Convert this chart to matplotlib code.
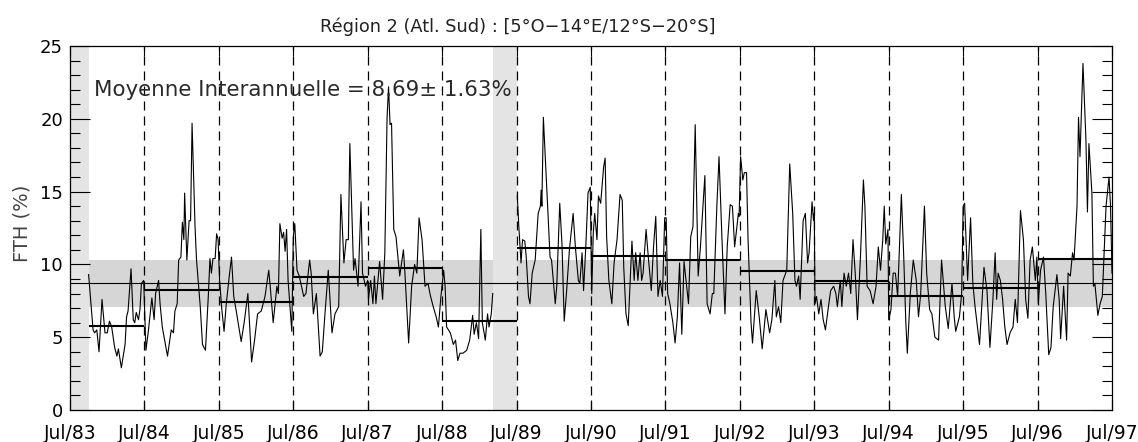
import numpy as np
import matplotlib
matplotlib.use("Agg")
import matplotlib.pyplot as plt
from matplotlib.ticker import MultipleLocator, FixedLocator

# FTH series, Oct 83 -> Mar 89 (decimal years / %)
t_part1 = [1983.75, 1983.81, 1983.83, 1983.86, 1983.89, 1983.93, 1983.97, 1984.00, 1984.03, 1984.06,
           1984.10, 1984.13, 1984.15, 1984.19, 1984.24, 1984.26, 1984.28, 1984.32, 1984.35, 1984.37,
           1984.39, 1984.42, 1984.44, 1984.46, 1984.49, 1984.51, 1984.52, 1984.55, 1984.60, 1984.63,
           1984.65, 1984.69, 1984.71, 1984.74, 1984.81, 1984.86, 1984.89, 1984.91, 1984.94, 1984.96,
           1984.99, 1985.01, 1985.03, 1985.04, 1985.07, 1985.10, 1985.12, 1985.14, 1985.18, 1985.20,
           1985.25, 1985.28, 1985.32, 1985.36, 1985.38, 1985.40, 1985.42, 1985.45, 1985.47, 1985.49,
           1985.51, 1985.54, 1985.57, 1985.60, 1985.64, 1985.67, 1985.70, 1985.74, 1985.80, 1985.84,
           1985.89, 1985.94, 1985.98, 1986.02, 1986.07, 1986.12, 1986.17, 1986.19, 1986.23, 1986.28,
           1986.30, 1986.32, 1986.35, 1986.37, 1986.39, 1986.41, 1986.43, 1986.48, 1986.50, 1986.52,
           1986.55, 1986.58, 1986.61, 1986.64, 1986.67, 1986.72, 1986.74, 1986.77, 1986.81, 1986.86,
           1986.89, 1986.93, 1986.97, 1987.02, 1987.06, 1987.11, 1987.14, 1987.18, 1987.21, 1987.24,
           1987.26, 1987.31, 1987.33, 1987.37, 1987.41, 1987.43, 1987.47, 1987.50, 1987.51, 1987.54,
           1987.57, 1987.59, 1987.61, 1987.66, 1987.70, 1987.73, 1987.76, 1987.78, 1987.80, 1987.82,
           1987.85, 1987.88, 1987.91, 1987.93, 1987.98, 1988.00, 1988.05, 1988.09, 1988.13, 1988.16,
           1988.19, 1988.23, 1988.27, 1988.31, 1988.34, 1988.38, 1988.42, 1988.45, 1988.48, 1988.52,
           1988.54, 1988.56, 1988.61, 1988.65, 1988.68, 1988.71, 1988.74, 1988.78, 1988.83, 1988.87,
           1988.91, 1988.93, 1988.96, 1988.99, 1989.02, 1989.04, 1989.08, 1989.11, 1989.13, 1989.16,
           1989.18]
fth_part1 = [9.3, 5.5, 5.3, 5.5, 4.0, 7.6, 5.3, 5.3, 6.1, 5.7,
             4.3, 3.7, 4.2, 2.9, 4.5, 6.4, 6.8, 9.7, 6.2, 6.0,
             6.7, 6.2, 6.9, 8.7, 8.9, 5.7, 4.1, 5.3, 7.7, 6.2,
             8.0, 8.9, 7.3, 5.7, 3.7, 5.5, 5.3, 6.8, 7.3, 10.3,
             10.5, 12.9, 11.7, 14.9, 10.3, 13.0, 13.0, 19.7, 12.6, 10.3,
             7.1, 4.5, 4.1, 8.0, 10.4, 9.4, 10.4, 10.4, 12.1, 11.7,
             8.9, 6.9, 5.4, 7.3, 9.2, 10.5, 7.8, 6.6, 4.7, 6.0,
             8.0, 3.3, 4.8, 6.6, 6.8, 7.8, 9.6, 8.5, 6.0, 8.5,
             8.0, 12.8, 11.8, 12.2, 10.9, 12.4, 8.9, 5.4, 11.9, 12.8,
             9.6, 9.2, 8.5, 7.8, 8.0, 10.3, 9.4, 6.6, 8.0, 3.7,
             4.0, 6.9, 9.6, 5.3, 6.6, 7.1, 14.8, 10.1, 11.7, 11.7,
             18.3, 9.6, 10.4, 8.5, 14.3, 9.4, 8.5, 8.9, 7.6, 8.9,
             7.3, 9.2, 7.3, 10.2, 7.6, 10.8, 20.1, 22.2, 19.6, 19.7,
             12.4, 11.9, 10.3, 9.2, 11.0, 9.4, 4.6, 8.5, 10.0, 9.4,
             13.2, 11.7, 8.5, 8.7, 7.9, 7.1, 6.4, 5.7, 7.6, 9.6,
             8.5, 5.7, 5.3, 4.5, 4.8, 3.4, 3.9, 3.9, 4.1, 4.8,
             6.5, 5.2, 6.0, 4.9, 12.4, 6.0, 4.8, 6.6, 5.7, 6.6,
             8.0]

# FTH series, Jul 89 -> Jun 97
t_part2 = [1989.51, 1989.53, 1989.56, 1989.58, 1989.61, 1989.63, 1989.66, 1989.68, 1989.71, 1989.75,
           1989.79, 1989.82, 1989.83, 1989.84, 1989.86, 1989.90, 1989.93, 1989.95, 1989.97, 1990.02,
           1990.04, 1990.08, 1990.11, 1990.14, 1990.17, 1990.21, 1990.26, 1990.29, 1990.33, 1990.35,
           1990.38, 1990.40, 1990.43, 1990.46, 1990.49, 1990.51, 1990.53, 1990.55, 1990.58, 1990.60,
           1990.63, 1990.67, 1990.69, 1990.71, 1990.74, 1990.78, 1990.81, 1990.85, 1990.89, 1990.92,
           1990.94, 1990.97, 1991.00, 1991.05, 1991.08, 1991.10, 1991.13, 1991.16, 1991.18, 1991.20,
           1991.24, 1991.27, 1991.31, 1991.34, 1991.37, 1991.40, 1991.43, 1991.46, 1991.49, 1991.51,
           1991.53, 1991.56, 1991.60, 1991.63, 1991.66, 1991.69, 1991.72, 1991.75, 1991.81, 1991.84,
           1991.87, 1991.90, 1991.94, 1991.97, 1992.03, 1992.06, 1992.10, 1992.13, 1992.15, 1992.19,
           1992.22, 1992.26, 1992.30, 1992.33, 1992.37, 1992.40, 1992.43, 1992.46, 1992.48, 1992.49,
           1992.51, 1992.54, 1992.56, 1992.59, 1992.61, 1992.65, 1992.67, 1992.72, 1992.76, 1992.80,
           1992.85, 1992.90, 1992.93, 1992.97, 1992.99, 1993.02, 1993.05, 1993.08, 1993.13, 1993.17,
           1993.21, 1993.24, 1993.26, 1993.29, 1993.31, 1993.35, 1993.38, 1993.41, 1993.43, 1993.47,
           1993.49, 1993.50, 1993.51, 1993.53, 1993.56, 1993.59, 1993.62, 1993.65, 1993.69, 1993.72,
           1993.76, 1993.79, 1993.81, 1993.85, 1993.87, 1993.90, 1993.93, 1993.96, 1993.99, 1994.02,
           1994.05, 1994.08, 1994.12, 1994.16, 1994.18, 1994.21, 1994.25, 1994.29, 1994.33, 1994.36,
           1994.39, 1994.42, 1994.44, 1994.46, 1994.49, 1994.50, 1994.53, 1994.56, 1994.59, 1994.62,
           1994.67, 1994.70, 1994.73, 1994.75, 1994.79, 1994.83, 1994.87, 1994.90, 1994.93, 1994.98,
           1995.01, 1995.05, 1995.08, 1995.12, 1995.17, 1995.21, 1995.26, 1995.30, 1995.35, 1995.38,
           1995.40, 1995.45, 1995.48, 1995.50, 1995.52, 1995.56, 1995.60, 1995.63, 1995.66, 1995.72,
           1995.75, 1995.78, 1995.82, 1995.86, 1995.90, 1995.93, 1995.95, 1995.97, 1996.00, 1996.03,
           1996.06, 1996.09, 1996.13, 1996.17, 1996.20, 1996.23, 1996.27, 1996.31, 1996.34, 1996.37,
           1996.40, 1996.43, 1996.47, 1996.49, 1996.51, 1996.54, 1996.58, 1996.61, 1996.65, 1996.68,
           1996.71, 1996.76, 1996.79, 1996.81, 1996.85, 1996.89, 1996.91, 1996.94, 1996.97, 1996.99,
           1997.03, 1997.05, 1997.07, 1997.11, 1997.15, 1997.17, 1997.19, 1997.23, 1997.25, 1997.27,
           1997.31, 1997.34, 1997.37, 1997.42, 1997.46, 1997.48, 1997.50]
fth_part2 = [14.7, 12.6, 10.1, 11.7, 11.6, 10.5, 7.8, 7.3, 9.4, 10.3,
             13.5, 14.0, 15.1, 14.0, 20.1, 15.8, 12.6, 10.5, 10.3, 7.3,
             8.5, 14.2, 11.4, 6.1, 8.0, 11.0, 13.5, 11.2, 8.9, 8.7,
             10.8, 8.2, 11.2, 14.9, 15.3, 8.0, 12.1, 13.5, 11.7, 14.7,
             14.2, 16.7, 17.3, 11.9, 8.9, 7.3, 10.1, 11.7, 14.8, 14.4,
             9.8, 6.6, 5.8, 11.6, 8.9, 10.8, 8.9, 10.8, 8.9, 9.4,
             12.4, 10.5, 8.2, 11.2, 13.3, 7.8, 8.9, 7.8, 13.2, 13.2,
             8.0, 7.3, 6.0, 4.6, 6.4, 10.1, 5.2, 10.2, 7.3, 11.9,
             12.6, 19.6, 9.2, 11.2, 16.1, 7.3, 6.6, 8.0, 8.0, 13.9,
             17.4, 11.7, 6.6, 11.2, 14.1, 14.0, 11.2, 12.6, 13.5, 13.3,
             17.4, 15.8, 16.3, 16.3, 11.7, 6.0, 4.6, 8.2, 6.4, 4.2,
             6.9, 5.3, 6.2, 8.9, 6.4, 7.1, 6.0, 8.9, 9.6, 16.9,
             13.5, 8.9, 8.5, 9.2, 7.6, 13.0, 13.5, 10.1, 10.8, 14.3,
             13.0, 13.5, 7.3, 7.8, 6.6, 7.6, 6.2, 5.5, 7.1, 8.2,
             8.5, 8.0, 7.1, 8.9, 7.1, 9.4, 8.5, 9.4, 8.0, 11.7,
             9.4, 6.2, 10.5, 15.8, 14.0, 8.5, 8.2, 7.3, 8.5, 11.2,
             9.6, 11.7, 14.0, 11.4, 12.4, 6.2, 6.9, 9.4, 9.4, 7.8,
             14.8, 10.8, 6.0, 3.9, 8.0, 10.3, 8.9, 6.4, 8.0, 14.0,
             9.4, 6.9, 6.6, 5.0, 4.8, 10.3, 7.1, 5.6, 8.7, 6.4,
             5.4, 6.4, 8.0, 14.0, 14.2, 8.9, 13.2, 8.7, 7.1, 4.5,
             7.1, 9.8, 8.2, 4.3, 7.6, 10.8, 7.6, 9.4, 8.9, 7.6,
             5.7, 4.5, 5.3, 5.7, 7.6, 6.0, 13.7, 11.7, 7.6, 6.3,
             10.3, 11.2, 8.9, 10.5, 7.3, 9.6, 10.5, 8.0, 3.8, 4.3,
             7.1, 9.3, 7.6, 4.9, 8.5, 4.8, 9.4, 9.2, 10.8, 10.3,
             14.0, 20.1, 17.4, 23.8, 18.5, 13.6, 18.3, 14.9, 8.5, 8.7,
             6.5, 7.3, 7.8, 14.0, 16.0, 14.0, 9.4]

# annual means (Jul -> Jul)
year_start = [1983.5, 1984.5, 1985.5, 1986.5, 1987.5, 1988.5, 1989.5,
              1990.5, 1991.5, 1992.5, 1993.5, 1994.5, 1995.5, 1996.5]
annual_mean = [5.77, 8.22, 7.42, 9.11, 9.73, 6.11, 11.1,
               10.6, 10.32, 9.52, 8.84, 7.85, 8.40, 10.35]

mean_all = 8.69
std_all = 1.63
missing = [(1983.5, 1983.75), (1989.18, 1989.5)]
tick_labels = ["Jul/83", "Jul/84", "Jul/85", "Jul/86", "Jul/87", "Jul/88", "Jul/89", "Jul/90",
               "Jul/91", "Jul/92", "Jul/93", "Jul/94", "Jul/95", "Jul/96", "Jul/97"]

plt.rcParams['lines.scale_dashes'] = False

fig = plt.figure(figsize=(11.38, 4.42), dpi=100)
ax = fig.add_axes([70/1138, 1 - 410/442, 1042/1138, 364/442])
ax.set_axisbelow(False)

x0, x1 = 1983.5, 1997.5
ax.set_xlim(x0, x1)
ax.set_ylim(0, 25)

# +/- 1 std band then missing-data bands on top
ax.axhspan(mean_all - std_all, mean_all + std_all, color='#d6d6d6', lw=0, zorder=1)
for a, b in missing:
    ax.axvspan(a, b, color='#e4e4e4', lw=0, zorder=2)
ax.axhline(mean_all, color='black', lw=0.8, zorder=3)

for k in range(1, 14):
    ax.axvline(x0 + k, color='black', lw=0.9, dashes=(6.5, 4.3), zorder=3)

ax.plot(t_part1, fth_part1, color='black', lw=0.8, zorder=4)
ax.plot(t_part2, fth_part2, color='black', lw=0.8, zorder=4)

for ys, m in zip(year_start, annual_mean):
    start = max(ys, t_part1[0])
    ax.plot([start, ys + 1], [m, m], color='black', lw=1.5, zorder=5, solid_capstyle='butt')

ax.text(1983.82, 22.0,
        "Moyenne Interannuelle = %.2f\u00b1 %.2f%%" % (mean_all, std_all),
        fontsize=15.4, color='#2a2a2a', va='center', ha='left', zorder=6)

ax.xaxis.set_major_locator(FixedLocator([x0 + k for k in range(15)]))
ax.set_xticklabels(tick_labels)
ax.yaxis.set_major_locator(MultipleLocator(5))
ax.yaxis.set_minor_locator(MultipleLocator(1))
ax.tick_params(axis='y', which='major', direction='in', length=14.5, width=0.8,
               left=True, right=True, labelsize=13, pad=5)
ax.tick_params(axis='y', which='minor', direction='in', length=7, width=0.8,
               left=True, right=True)
ax.tick_params(axis='x', which='major', direction='in', length=7, width=0.8,
               top=True, bottom=True, labelsize=13.5, pad=10)
for sp in ax.spines.values():
    sp.set_linewidth(0.9)
    sp.set_zorder(7)

fig.text(22/1138, 1 - 223/442, "FTH (%)", rotation=90, fontsize=14,
         color='#444444', ha='center', va='center')
fig.text(518/1138, 1 - 27/442, "Région 2 (Atl. Sud) : [5°O\u221214°E/12°S\u221220°S]",
         fontsize=12.8, color='#222222', ha='center', va='center')

fig.savefig("out.png", dpi=100)
